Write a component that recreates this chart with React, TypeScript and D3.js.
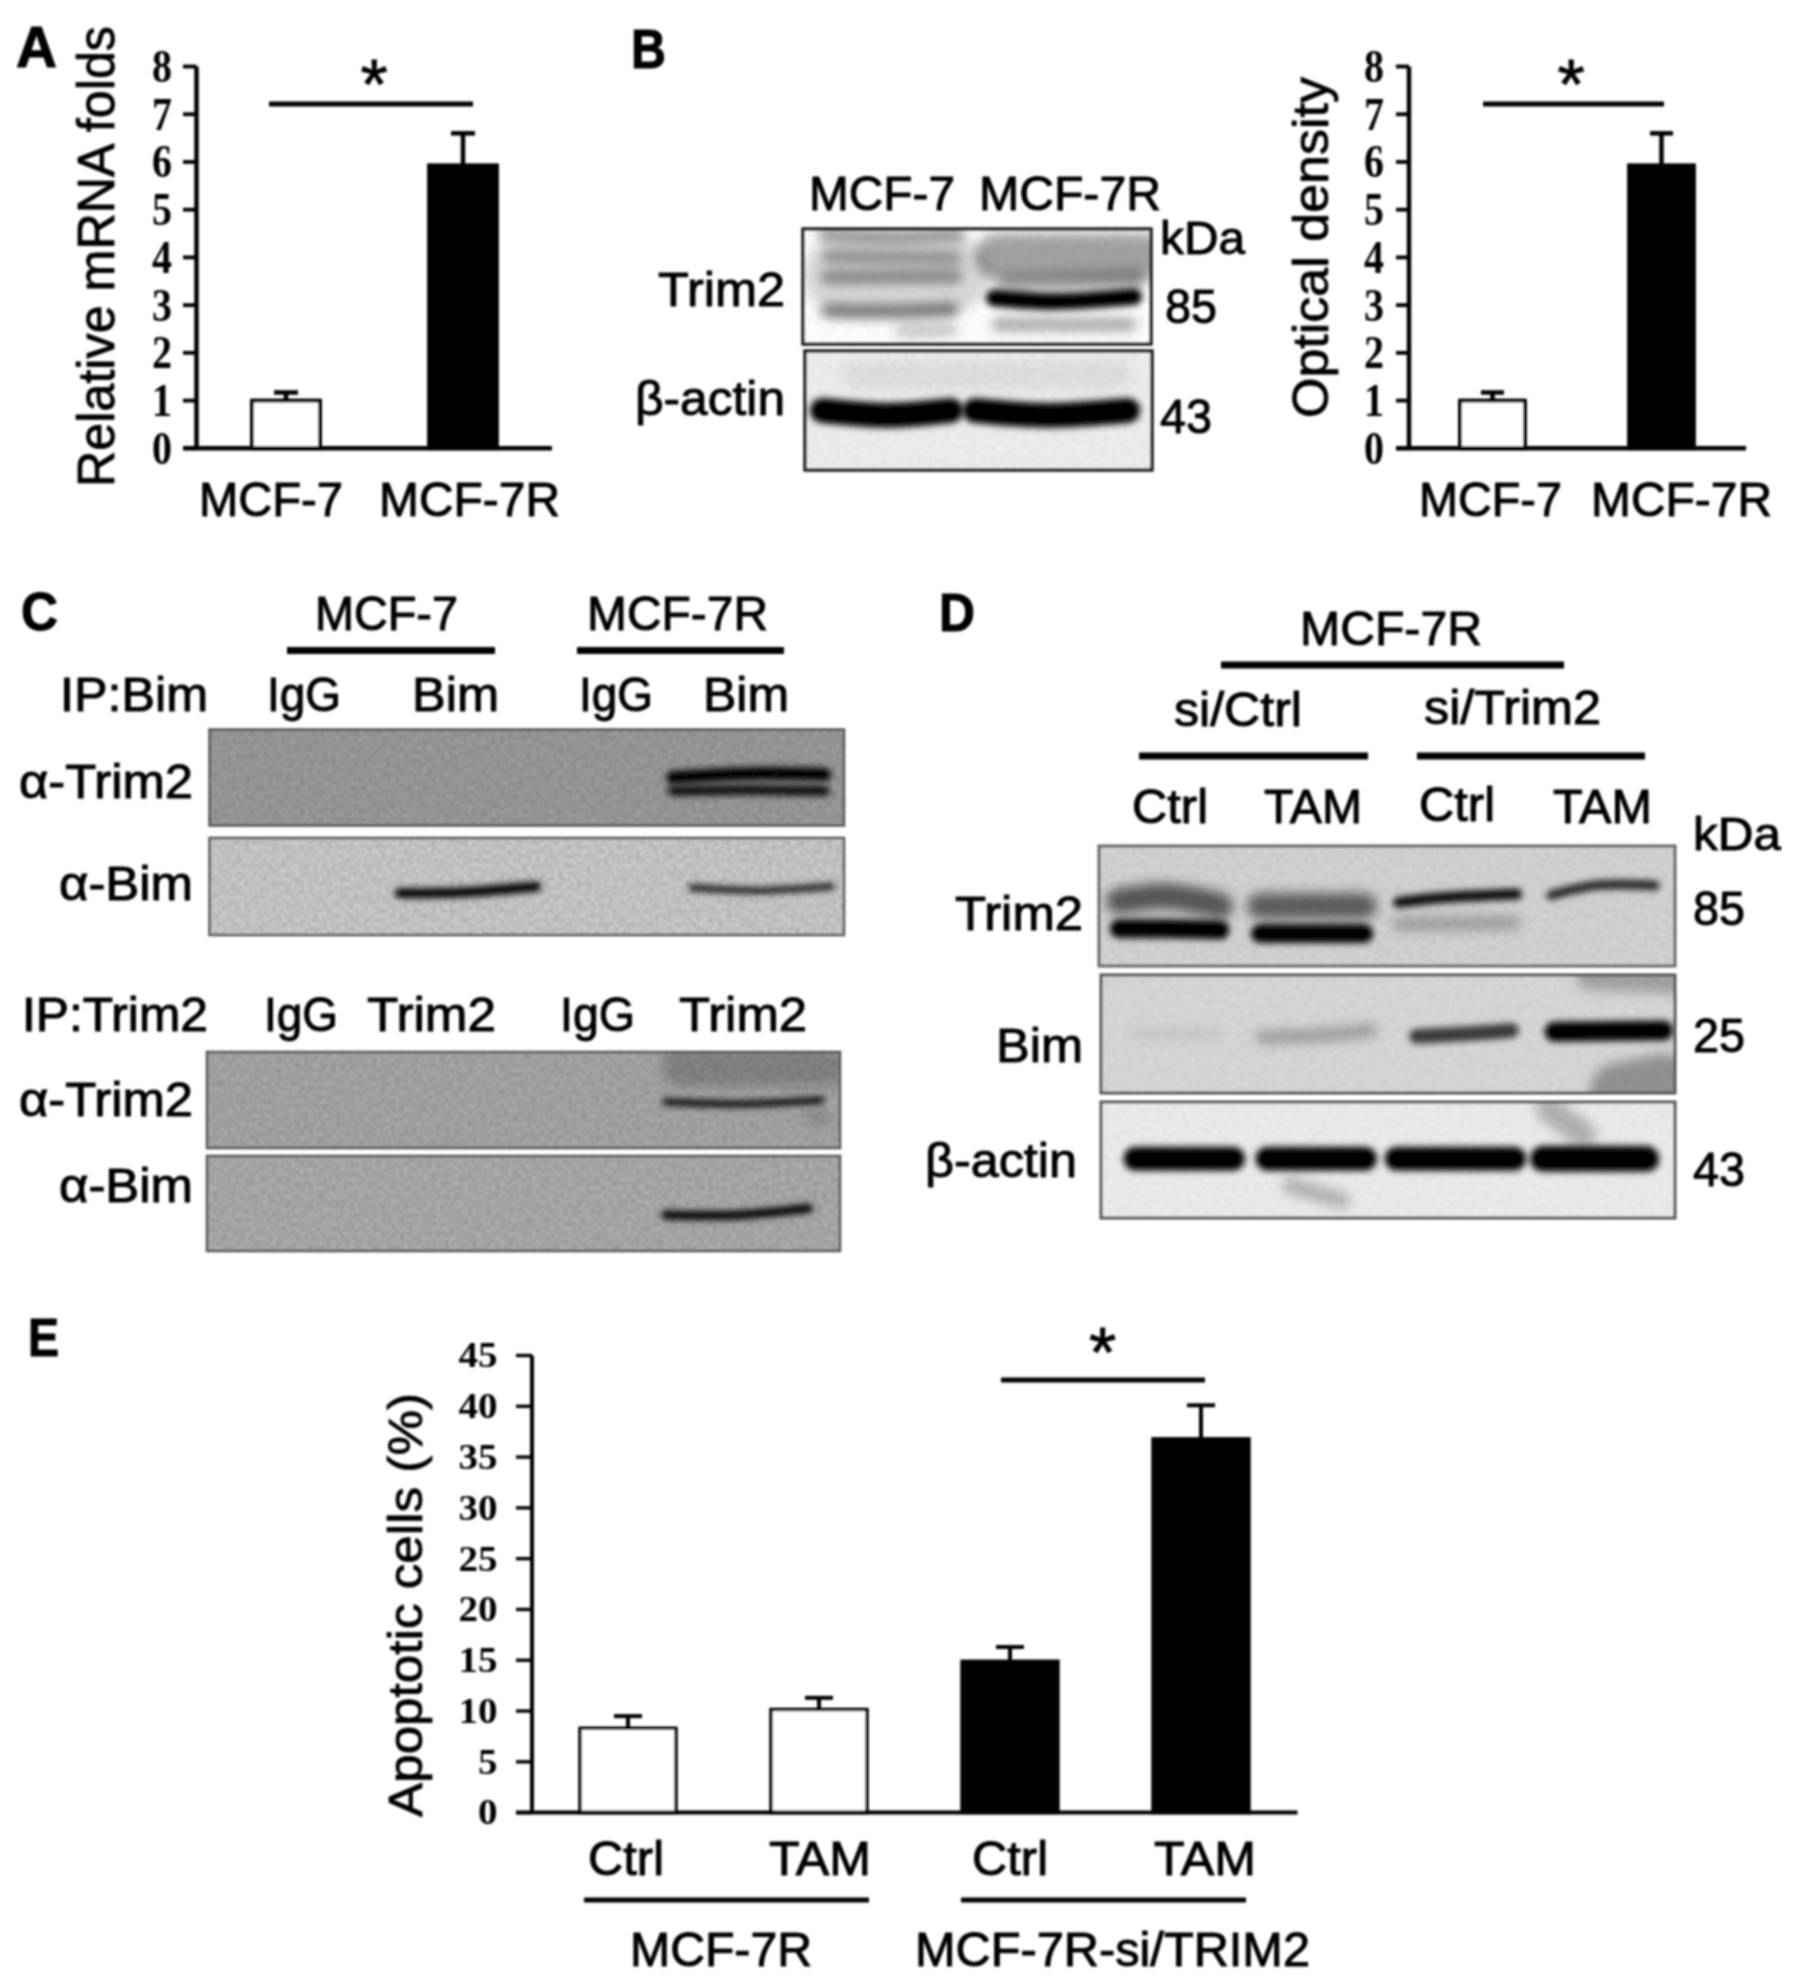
import React from "react";
import * as d3 from "d3";

// ---------- chart data ----------
const cellLines = ["MCF-7", "MCF-7R"];
const mrnaValues = [1.0, 5.93];
const mrnaErrors = [0.17, 0.67];
const densityValues = [1.0, 5.93];
const densityErrors = [0.17, 0.67];
const foldTicks = [0, 1, 2, 3, 4, 5, 6, 7, 8];
const apoptosisCats = ["MCF-7R Ctrl", "MCF-7R TAM", "si Ctrl", "si TAM"];
const apoptosisValues = [8.3, 10.15, 14.9, 36.8];
const apoptosisErrors = [1.2, 1.15, 1.4, 3.3];
const apoptosisTicks = [0, 5, 10, 15, 20, 25, 30, 35, 40, 45];

// ---------- blot densitometry, normalised to each membrane ----------
type Band = { p: number[][]; w: number; ink: number };
const b = (p: number[][], w: number, ink: number): Band => ({ p, w, ink });

const blotBTrim2: Band[] = [
  b([[0.1, 0.4], [0.44, 0.4]], 70, 0.14),
  b([[0.06, 0.05], [0.25, 0.07], [0.45, 0.05]], 12, 0.45),
  b([[0.07, 0.24], [0.44, 0.25]], 11, 0.42),
  b([[0.07, 0.42], [0.44, 0.41]], 14, 0.4),
  b([[0.07, 0.71], [0.25, 0.72], [0.43, 0.7]], 13, 0.55),
  b([[0.28, 0.89], [0.43, 0.88]], 10, 0.28),
  b([[0.56, 0.24], [0.97, 0.24]], 46, 0.36),
  b([[0.58, 0.47], [0.96, 0.44]], 18, 0.34),
  b([[0.56, 0.83], [0.94, 0.83]], 13, 0.35),
  b([[0.55, 0.6], [0.72, 0.63], [0.95, 0.59]], 17, 1),
];
const blotBActin: Band[] = [
  b([[0.05, 0.5], [0.24, 0.54], [0.42, 0.5]], 25, 1),
  b([[0.49, 0.5], [0.7, 0.54], [0.93, 0.5]], 25, 1),
  b([[0.15, 0.2], [0.9, 0.2]], 30, 0.06),
];
const blotC1: Band[] = [
  b([[0.73, 0.5], [0.85, 0.46], [0.97, 0.47]], 13, 1),
  b([[0.73, 0.64], [0.85, 0.63], [0.97, 0.64]], 10, 0.92),
];
const blotC2: Band[] = [
  b([[0.3, 0.57], [0.4, 0.56], [0.515, 0.5]], 10, 1),
  b([[0.76, 0.51], [0.86, 0.54], [0.98, 0.5]], 7, 0.85),
];
const blotC3: Band[] = [
  b([[0.75, 0.15], [0.98, 0.15]], 40, 0.2),
  b([[0.725, 0.52], [0.85, 0.54], [0.97, 0.5]], 7, 0.95),
  b([[0.95, 0.68], [0.98, 0.68]], 6, 0.35),
];
const blotC4: Band[] = [
  b([[0.725, 0.62], [0.84, 0.62], [0.95, 0.55]], 9, 1),
];
const blotDTrim2: Band[] = [
  b([[0.035, 0.46], [0.12, 0.42], [0.21, 0.5]], 26, 0.58),
  b([[0.035, 0.69], [0.12, 0.69], [0.21, 0.7]], 19, 1),
  b([[0.28, 0.5], [0.46, 0.5]], 26, 0.55),
  b([[0.28, 0.73], [0.46, 0.73]], 19, 1),
  b([[0.52, 0.65], [0.72, 0.64]], 14, 0.25),
  b([[0.52, 0.47], [0.6, 0.43], [0.725, 0.4]], 11, 0.95),
  b([[0.785, 0.41], [0.86, 0.33], [0.965, 0.33]], 10, 0.8),
];
const blotDBim: Band[] = [
  b([[0.9, 0.98], [0.98, 0.9]], 55, 0.32),
  b([[0.85, 0.02], [1, 0.05]], 25, 0.25),
  b([[0.06, 0.5], [0.2, 0.5]], 12, 0.07),
  b([[0.28, 0.53], [0.38, 0.51], [0.47, 0.47]], 13, 0.28),
  b([[0.55, 0.52], [0.63, 0.5], [0.715, 0.47]], 15, 0.72),
  b([[0.79, 0.48], [0.98, 0.47]], 20, 1),
];
const blotDActin: Band[] = [
  b([[0.33, 0.72], [0.42, 0.85]], 16, 0.25),
  b([[0.78, 0.06], [0.84, 0.28]], 26, 0.25),
  b([[0.06, 0.49], [0.23, 0.49]], 24, 1),
  b([[0.29, 0.49], [0.46, 0.49]], 24, 1),
  b([[0.515, 0.49], [0.72, 0.49]], 24, 1),
  b([[0.77, 0.49], [0.95, 0.49]], 26, 1),
];

const SANS = "'Liberation Sans', Arial, sans-serif";
const SERIF = "'Liberation Serif', serif";

function T({ x0, x1, y, size, text, bold, weight = 1 }: any) {
  return (
    <text x={x0} y={y} fontFamily={SANS} fontSize={size * 1.06} fontWeight={bold ? 700 : 400}
      textLength={x1 - x0} lengthAdjust="spacingAndGlyphs" stroke="#000" strokeWidth={weight} fill="#000">
      {text}
    </text>
  );
}
function VT({ x, y0, y1, size, text }: any) {
  return (
    <text transform={`translate(${x},${y0}) rotate(-90)`} fontFamily={SANS} fontSize={size * 1.04}
      textLength={y0 - y1} lengthAdjust="spacingAndGlyphs" stroke="#000" strokeWidth={0.8} fill="#000">
      {text}
    </text>
  );
}
const Line = ({ x0, x1, y, w = 5 }: any) => <line x1={x0} x2={x1} y1={y} y2={y} stroke="#000" strokeWidth={w} />;

function BarChart({ cats, values, errors, ticks, yMax, yTop, yBase, axisX, tickX, axisEnd, bandX0, bandX1, barW, fills,
  capW, tickFs, tickRight, tickW, lw }: any) {
  const y = d3.scaleLinear().domain([0, yMax]).range([yBase, yTop]);
  const step = (bandX1 - bandX0 - barW) / (cats.length - 1);
  const x = d3.scaleBand().domain(cats).range([bandX0, bandX1]).paddingInner(1 - barW / step).paddingOuter(0);
  return (
    <g>
      {cats.map((c: string, i: number) => {
        const xi = x(c)!;
        const cx = xi + x.bandwidth() / 2;
        return (
          <g key={c}>
            <line x1={cx} x2={cx} y1={y(values[i])} y2={y(values[i] + errors[i])} stroke="#000" strokeWidth={lw} />
            <line x1={cx - capW / 2} x2={cx + capW / 2} y1={y(values[i] + errors[i])} y2={y(values[i] + errors[i])} stroke="#000" strokeWidth={lw} />
            <rect x={xi} y={y(values[i])} width={x.bandwidth()} height={yBase - y(values[i])}
              fill={fills[i]} stroke="#000" strokeWidth={lw * 0.85} />
          </g>
        );
      })}
      <line x1={axisX} x2={axisX} y1={yTop} y2={yBase} stroke="#000" strokeWidth={lw} />
      <line x1={tickX} x2={axisEnd} y1={yBase} y2={yBase} stroke="#000" strokeWidth={lw} />
      {ticks.map((t: number) => (
        <g key={t}>
          <line x1={tickX} x2={axisX} y1={y(t)} y2={y(t)} stroke="#000" strokeWidth={lw * 0.85} />
          <text x={tickRight} y={y(t) + tickFs * 0.33} textAnchor="end" fontFamily={SERIF} fontSize={tickFs}
            fontWeight={700} textLength={String(t).length * tickW} lengthAdjust="spacingAndGlyphs" fill="#000">{t}</text>
        </g>
      ))}
    </g>
  );
}

function Blot({ id, x0, x1, y0, y1, bg, bands, border = "#333", bw = 3, grain = 0.16 }: any) {
  const u = d3.scaleLinear().domain([0, 1]).range([x0, x1]);
  const v = d3.scaleLinear().domain([0, 1]).range([y0, y1]);
  const ln = d3.line<number[]>().x((d) => u(d[0])).y((d) => v(d[1])).curve(d3.curveCatmullRom);
  const draw = (d: Band, i: number) => (
    <path key={i} d={ln(d.p)!} fill="none" stroke="#000" strokeOpacity={d.ink} strokeWidth={d.w} strokeLinecap="round"
      filter={d.ink < 0.6 ? "url(#soft2)" : "url(#soft1)"} />
  );
  return (
    <g>
      <clipPath id={id}><rect x={x0} y={y0} width={x1 - x0} height={y1 - y0} /></clipPath>
      <rect x={x0} y={y0} width={x1 - x0} height={y1 - y0} fill={bg} />
      <g clipPath={`url(#${id})`}>
        <rect x={x0} y={y0} width={x1 - x0} height={y1 - y0} fill="#000" filter="url(#grain)" opacity={grain} />
        {bands.map(draw)}
      </g>
      <rect x={x0} y={y0} width={x1 - x0} height={y1 - y0} fill="none" stroke={border} strokeWidth={bw} />
    </g>
  );
}

const Star = ({ x, y }: any) => (
  <text x={x} y={y} textAnchor="middle" fontFamily={SANS} fontSize={70} stroke="#000" strokeWidth={0.8} fill="#000">*</text>
);

export default function App() {
  return (
    <svg width={1795} height={1980} viewBox="0 0 1795 1980" style={{ position: "absolute", left: 0, top: 0, display: "block" }}>
      <defs>
        <filter id="grain" x="0" y="0" width="100%" height="100%">
          <feTurbulence type="fractalNoise" baseFrequency="0.22" numOctaves="2" seed="7" />
          <feColorMatrix values="0 0 0 0 0  0 0 0 0 0  0 0 0 0 0  1.6 0 0 0 -0.45" />
        </filter>
        <filter id="soft1" filterUnits="userSpaceOnUse" x="0" y="0" width="1795" height="1980"><feGaussianBlur stdDeviation="3" /></filter>
        <filter id="soft2" filterUnits="userSpaceOnUse" x="0" y="0" width="1795" height="1980"><feGaussianBlur stdDeviation="6" /></filter>
        <filter id="page" x="0" y="0" width="100%" height="100%"><feGaussianBlur stdDeviation="0.8" /></filter>
      </defs>
      <rect width={1795} height={1980} fill="#fff" />
      <g filter="url(#page)">
        {/* Panel letters */}
        <T x0={16} x1={57} y={67} size={54} text="A" bold />
        <T x0={631} x1={666} y={68} size={52} text="B" bold />
        <T x0={21} x1={58} y={630} size={50} text="C" bold />
        <T x0={939} x1={975} y={631} size={50} text="D" bold />
        <T x0={28} x1={59} y={1356} size={50} text="E" bold />

        {/* Panel A */}
        <BarChart cats={cellLines} values={mrnaValues} errors={mrnaErrors} ticks={foldTicks} yMax={8} yTop={66.5} yBase={448.3}
          axisX={196.5} tickX={183} axisEnd={552} bandX0={252} bandX1={497} barW={68} fills={["#fff", "#000"]} capW={24}
          tickFs={47} tickRight={172} tickW={20} lw={4.5} />
        <Line x0={269} x1={473} y={104} w={5} />
        <Star x={374} y={109} />
        <VT x={114} y0={487} y1={26} size={50} text="Relative mRNA folds" />
        <T x0={199} x1={343} y={516} size={46} text={cellLines[0]} />
        <T x0={379} x1={560} y={516} size={46} text={cellLines[1]} />

        {/* Panel B blots */}
        <T x0={809} x1={955} y={210} size={46} text="MCF-7" />
        <T x0={979} x1={1161} y={210} size={46} text="MCF-7R" />
        <Blot id="b1" x0={803} x1={1151} y0={229} y1={344} bg="#ffffff" bands={blotBTrim2} border="#222" bw={3.5} grain={0.05} />
        <Blot id="b2" x0={805} x1={1152} y0={351} y1={470} bg="#eeeeee" bands={blotBActin} border="#222" bw={3.5} grain={0.05} />
        <T x0={1160} x1={1245} y={254} size={44} text="kDa" />
        <T x0={1165} x1={1217} y={323} size={46} text="85" />
        <T x0={1160} x1={1212} y={433} size={46} text="43" />
        <T x0={658} x1={785} y={306} size={46} text="Trim2" />
        <T x0={635} x1={785} y={415} size={46} text="β-actin" />

        {/* Panel B density chart */}
        <BarChart cats={cellLines} values={densityValues} errors={densityErrors} ticks={foldTicks} yMax={8} yTop={66.5} yBase={448.3}
          axisX={1409} tickX={1396} axisEnd={1746} bandX0={1460} bandX1={1694} barW={65} fills={["#fff", "#000"]} capW={23}
          tickFs={47} tickRight={1384} tickW={20} lw={4.5} />
        <Line x0={1483} x1={1664} y={104} w={5} />
        <Star x={1571} y={109} />
        <VT x={1328} y0={418} y1={77} size={48} text="Optical density" />
        <T x0={1419} x1={1562} y={516} size={46} text={cellLines[0]} />
        <T x0={1591} x1={1772} y={516} size={46} text={cellLines[1]} />

        {/* Panel C */}
        <T x0={315} x1={458} y={630} size={46} text="MCF-7" />
        <T x0={587} x1={768} y={630} size={46} text="MCF-7R" />
        <Line x0={287} x1={495} y={650.5} w={7} />
        <Line x0={577} x1={784} y={650.5} w={7} />
        <T x0={60} x1={208} y={711} size={46} text="IP:Bim" />
        <T x0={267} x1={341} y={711} size={46} text="IgG" />
        <T x0={412} x1={499} y={711} size={46} text="Bim" />
        <T x0={579} x1={653} y={711} size={46} text="IgG" />
        <T x0={703} x1={789} y={711} size={46} text="Bim" />
        <Blot id="c1" x0={209.5} x1={844} y0={729.5} y1={825.5} bg="#9c9c9c" bands={blotC1} border="#555" bw={2.5} />
        <Blot id="c2" x0={209.5} x1={844} y0={838} y1={935} bg="#cbcbcb" bands={blotC2} border="#555" bw={2.5} />
        <T x0={19} x1={193} y={798} size={46} text="α-Trim2" />
        <T x0={59} x1={193} y={900} size={46} text="α-Bim" />
        <T x0={22} x1={208} y={1031} size={46} text="IP:Trim2" />
        <T x0={264} x1={338} y={1031} size={46} text="IgG" />
        <T x0={367} x1={496} y={1031} size={46} text="Trim2" />
        <T x0={560} x1={635} y={1031} size={46} text="IgG" />
        <T x0={679} x1={807} y={1031} size={46} text="Trim2" />
        <Blot id="c3" x0={207} x1={840} y0={1052} y1={1148} bg="#a8a8a8" bands={blotC3} border="#555" bw={2.5} />
        <Blot id="c4" x0={207} x1={840} y0={1156} y1={1251} bg="#adadad" bands={blotC4} border="#555" bw={2.5} />
        <T x0={19} x1={193} y={1116} size={46} text="α-Trim2" />
        <T x0={59} x1={193} y={1202} size={46} text="α-Bim" />

        {/* Panel D */}
        <T x0={1300} x1={1482} y={645} size={46} text="MCF-7R" />
        <Line x0={1221} x1={1564} y={665} w={7} />
        <T x0={1174} x1={1302} y={726} size={46} text="si/Ctrl" />
        <T x0={1424} x1={1601} y={724} size={46} text="si/Trim2" />
        <Line x0={1139} x1={1368} y={756} w={7} />
        <Line x0={1417} x1={1645} y={756} w={7} />
        <T x0={1132} x1={1208} y={823} size={46} text="Ctrl" />
        <T x0={1264} x1={1362} y={823} size={46} text="TAM" />
        <T x0={1419} x1={1495} y={821} size={46} text="Ctrl" />
        <T x0={1553} x1={1652} y={823} size={46} text="TAM" />
        <T x0={1693} x1={1781} y={850} size={44} text="kDa" />
        <Blot id="d1" x0={1099} x1={1675} y0={846} y1={966} bg="#d4d4d4" bands={blotDTrim2} border="#666" bw={3} grain={0.08} />
        <Blot id="d2" x0={1101} x1={1675} y0={975} y1={1093} bg="#d8d8d8" bands={blotDBim} border="#555" bw={3} grain={0.06} />
        <Blot id="d3" x0={1101} x1={1675} y0={1102} y1={1218} bg="#ececec" bands={blotDActin} border="#555" bw={3} grain={0.05} />
        <T x0={955} x1={1083} y={930} size={46} text="Trim2" />
        <T x0={996} x1={1083} y={1062} size={46} text="Bim" />
        <T x0={925} x1={1077} y={1177} size={46} text="β-actin" />
        <T x0={1693} x1={1745} y={925} size={46} text="85" />
        <T x0={1693} x1={1745} y={1052} size={46} text="25" />
        <T x0={1693} x1={1745} y={1186} size={46} text="43" />

        {/* Panel E */}
        <BarChart cats={apoptosisCats} values={apoptosisValues} errors={apoptosisErrors} ticks={apoptosisTicks} yMax={45}
          yTop={1355.5} yBase={1812.6} axisX={532} tickX={516} axisEnd={1297.5} bandX0={580} bandX1={1249} barW={96}
          fills={["#fff", "#fff", "#000", "#000"]} capW={28} tickFs={36} tickRight={497.5} tickW={19.5} lw={4} />
        <Line x0={1001} x1={1205} y={1380} w={5} />
        <Star x={1102.5} y={1377} />
        <VT x={422} y0={1817} y1={1393} size={46} text="Apoptotic cells (%)" />
        <T x0={588} x1={664} y={1875} size={46} text="Ctrl" />
        <T x0={769} x1={871} y={1875} size={46} text="TAM" />
        <T x0={972} x1={1048} y={1875} size={46} text="Ctrl" />
        <T x0={1154} x1={1256} y={1875} size={46} text="TAM" />
        <Line x0={584} x1={869} y={1900} w={5} />
        <Line x0={961} x1={1246} y={1900} w={5} />
        <T x0={630} x1={812} y={1966} size={46} text="MCF-7R" />
        <T x0={915} x1={1310} y={1966} size={46} text="MCF-7R-si/TRIM2" />
      </g>
    </svg>
  );
}
